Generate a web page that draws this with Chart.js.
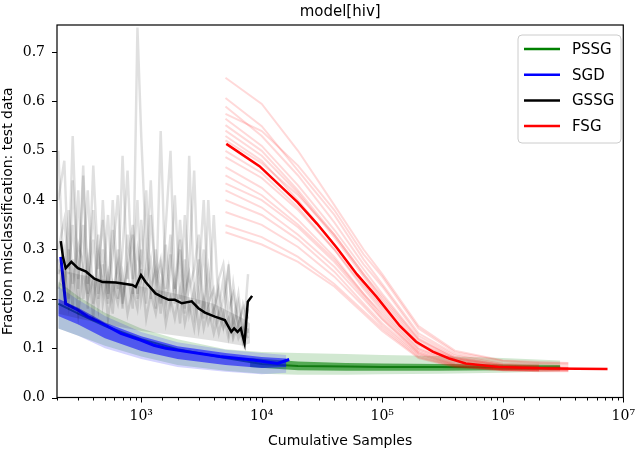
<!DOCTYPE html>
<html>
<head>
<meta charset="utf-8">
<script src="https://cdn.jsdelivr.net/npm/chart.js@4.4.1/dist/chart.umd.min.js"></script>
<style>
html, body { margin: 0; padding: 0; background: #fff; }
#wrap { width: 640px; height: 450px; position: relative; }
</style>
</head>
<body>
<div id="wrap"><canvas id="chart"></canvas></div>
<script>
// legend
var legendLabels = ["PSSG", "SGD", "GSSG", "FSG"];
var legendColors = ["green", "blue", "black", "red"];

// y ticks
var yTicks = [0.0, 0.1, 0.2, 0.3, 0.4, 0.5, 0.6, 0.7];

// PSSG (green) mean line + scatter band
var psX = [205, 300, 500, 1000, 2000, 5000, 10000, 20000, 50000, 100000, 300000, 1000000, 3000000];
var psY = [0.19, 0.17, 0.145, 0.118, 0.098, 0.08, 0.068, 0.064, 0.063, 0.062, 0.062, 0.061, 0.061];
var psHi = [0.235, 0.205, 0.172, 0.14, 0.118, 0.098, 0.092, 0.09, 0.088, 0.086, 0.084, 0.08, 0.075];
var psLo = [0.14, 0.125, 0.105, 0.083, 0.066, 0.054, 0.048, 0.046, 0.046, 0.047, 0.048, 0.05, 0.053];
// dense green core, only visible right of the SGD runs
var pcX = [8000, 20000, 50000, 100000, 300000, 1000000, 3000000];
var pcHi = [0.08, 0.073, 0.07, 0.069, 0.068, 0.067, 0.066];
var pcLo = [0.062, 0.055, 0.054, 0.054, 0.054, 0.055, 0.056];

// SGD (blue) mean line + scatter band
var sgX = [215, 236, 300, 360, 450, 677, 1000, 1272, 1600, 2390, 4490, 8430, 13500, 16900];
var sgY = [0.285, 0.19, 0.177, 0.164, 0.153, 0.13, 0.116, 0.106, 0.10, 0.093, 0.083, 0.076, 0.069, 0.077];
var sbX = [205, 300, 500, 1000, 2000, 5000, 10000, 16000];
var sbHi = [0.225, 0.198, 0.165, 0.133, 0.112, 0.097, 0.09, 0.086];
var sbLo = [0.14, 0.125, 0.1, 0.078, 0.062, 0.052, 0.047, 0.05];
var sbHi2 = [0.2, 0.182, 0.152, 0.124, 0.104, 0.09, 0.082, 0.079];
var sbLo2 = [0.165, 0.148, 0.12, 0.094, 0.078, 0.066, 0.06, 0.062];

// GSSG (black) mean line
var gsX = [215, 224, 236, 263, 298, 349, 408, 478, 616, 844, 900, 995, 1087, 1313, 1490, 1690, 1900, 2174, 2624, 2980, 3380, 4080, 4940, 5590, 5900, 6300, 6700, 7200, 7660, 8320];
var gsY = [0.317, 0.285, 0.262, 0.275, 0.262, 0.255, 0.241, 0.234, 0.233, 0.228, 0.224, 0.248, 0.234, 0.211, 0.204, 0.198, 0.198, 0.191, 0.195, 0.181, 0.172, 0.164, 0.157, 0.133, 0.140, 0.133, 0.140, 0.110, 0.194, 0.206];

// GSSG single runs (faint grey)
var gx = [205, 230, 250, 270, 300, 330, 360, 400, 440, 480, 530, 580, 640, 700, 770, 850, 930, 1000, 1100, 1200, 1320, 1450, 1600, 1750, 1900, 2100, 2300, 2500, 2750, 3000, 3300, 3600, 4000, 4400, 4800, 5300, 5800, 6400, 7000, 7700];
var g1 = [0.50, 0.22, 0.30, 0.18, 0.42, 0.20, 0.28, 0.16, 0.33, 0.19, 0.25, 0.17, 0.30, 0.20, 0.26, 0.18, 0.75, 0.53, 0.30, 0.22, 0.26, 0.17, 0.31, 0.19, 0.24, 0.15, 0.28, 0.17, 0.22, 0.14, 0.20, 0.15, 0.18, 0.13, 0.17, 0.12, 0.16, 0.12, 0.14, 0.12];
var g2 = [0.40, 0.48, 0.25, 0.35, 0.20, 0.45, 0.23, 0.38, 0.21, 0.30, 0.19, 0.40, 0.22, 0.49, 0.24, 0.33, 0.20, 0.36, 0.23, 0.28, 0.18, 0.54, 0.22, 0.33, 0.20, 0.30, 0.17, 0.49, 0.20, 0.28, 0.16, 0.40, 0.18, 0.22, 0.15, 0.27, 0.13, 0.19, 0.12, 0.25];
var g3 = [0.30, 0.36, 0.26, 0.53, 0.22, 0.47, 0.21, 0.32, 0.20, 0.40, 0.21, 0.34, 0.20, 0.30, 0.46, 0.21, 0.30, 0.25, 0.42, 0.20, 0.30, 0.19, 0.35, 0.50, 0.22, 0.32, 0.18, 0.27, 0.46, 0.19, 0.30, 0.17, 0.37, 0.18, 0.24, 0.14, 0.23, 0.15, 0.18, 0.13];
var g4 = [0.25, 0.30, 0.20, 0.44, 0.24, 0.35, 0.18, 0.47, 0.26, 0.36, 0.20, 0.29, 0.41, 0.19, 0.27, 0.35, 0.21, 0.30, 0.19, 0.37, 0.24, 0.28, 0.18, 0.26, 0.41, 0.20, 0.37, 0.22, 0.26, 0.33, 0.17, 0.26, 0.16, 0.24, 0.27, 0.18, 0.21, 0.14, 0.19, 0.16];
var g5 = [0.22, 0.26, 0.19, 0.28, 0.17, 0.26, 0.20, 0.24, 0.18, 0.27, 0.16, 0.23, 0.19, 0.25, 0.17, 0.22, 0.18, 0.26, 0.16, 0.21, 0.17, 0.23, 0.15, 0.20, 0.16, 0.22, 0.15, 0.19, 0.14, 0.21, 0.14, 0.18, 0.13, 0.17, 0.14, 0.16, 0.12, 0.15, 0.11, 0.14];
var g6 = [0.28, 0.21, 0.38, 0.23, 0.31, 0.27, 0.42, 0.19, 0.29, 0.22, 0.37, 0.21, 0.27, 0.18, 0.33, 0.24, 0.40, 0.20, 0.26, 0.44, 0.21, 0.27, 0.20, 0.29, 0.19, 0.36, 0.21, 0.25, 0.17, 0.24, 0.40, 0.19, 0.22, 0.16, 0.20, 0.26, 0.15, 0.21, 0.13, 0.18];
// dense part of the grey runs
var gcX = [205, 300, 600, 1000, 2000, 4000, 7000, 8000];
var gcLo = [0.17, 0.16, 0.145, 0.135, 0.125, 0.115, 0.105, 0.11];
var gcHi = [0.26, 0.25, 0.235, 0.225, 0.21, 0.19, 0.16, 0.15];

// FSG (red) mean line
var fsX = [5080, 9570, 19800, 28800, 42100, 61500, 89800, 140000, 191000, 262000, 359000, 493000, 925000, 2380000, 7400000];
var fsY = [0.514, 0.469, 0.396, 0.352, 0.303, 0.25, 0.204, 0.145, 0.113, 0.093, 0.079, 0.069, 0.062, 0.059, 0.058];

// FSG single runs (faint red)
var rx = [5000, 10000, 20000, 40000, 70000, 100000, 200000, 400000, 1000000, 2000000, 3500000];
var r1 = [0.648, 0.595, 0.50, 0.39, 0.30, 0.25, 0.145, 0.095, 0.075, 0.072, 0.070];
var r2 = [0.607, 0.55, 0.46, 0.37, 0.28, 0.23, 0.13, 0.088, 0.07, 0.068, 0.066];
var r3 = [0.59, 0.53, 0.45, 0.355, 0.27, 0.225, 0.125, 0.085, 0.068, 0.066, null];
var r4 = [0.575, 0.54, 0.47, 0.38, 0.29, 0.245, 0.14, 0.092, 0.074, 0.07, 0.069];
var r5 = [0.565, 0.51, 0.43, 0.34, 0.26, 0.21, 0.12, 0.082, 0.066, 0.063, 0.062];
var r6 = [0.552, 0.50, 0.42, 0.33, 0.25, 0.20, 0.115, 0.08, 0.065, 0.062, null];
var r7 = [0.541, 0.49, 0.415, 0.325, 0.245, 0.195, 0.11, 0.078, 0.064, 0.061, 0.060];
var r8 = [0.53, 0.48, 0.40, 0.31, 0.23, 0.185, 0.108, 0.077, 0.063, 0.061, 0.060];
var r9 = [0.521, 0.475, 0.41, 0.33, 0.25, 0.205, 0.118, 0.08, 0.066, 0.064, null];
var r10 = [0.50, 0.455, 0.385, 0.30, 0.22, 0.175, 0.10, 0.072, 0.06, 0.058, 0.057];
var r11 = [0.487, 0.445, 0.38, 0.30, 0.225, 0.18, 0.105, 0.075, 0.062, 0.06, 0.059];
var r12 = [0.467, 0.425, 0.36, 0.285, 0.21, 0.17, 0.098, 0.07, 0.059, 0.057, null];
var r13 = [0.45, 0.41, 0.35, 0.28, 0.21, 0.165, 0.095, 0.068, 0.058, 0.056, 0.055];
var r14 = [0.434, 0.40, 0.345, 0.275, 0.205, 0.16, 0.092, 0.067, 0.057, 0.056, null];
var r15 = [0.42, 0.385, 0.33, 0.265, 0.20, 0.158, 0.09, 0.066, 0.057, 0.055, 0.055];
var r16 = [0.40, 0.37, 0.32, 0.255, 0.19, 0.15, 0.088, 0.065, 0.056, 0.055, null];
var r17 = [0.376, 0.35, 0.305, 0.245, 0.185, 0.145, 0.085, 0.064, 0.056, 0.054, 0.054];
var r18 = [0.349, 0.325, 0.285, 0.23, 0.175, 0.14, 0.082, 0.063, 0.055, 0.054, null];
var r19 = [0.335, 0.31, 0.275, 0.225, 0.17, 0.135, 0.08, 0.062, 0.055, 0.053, 0.053];

var sup = { 2: "\u00b2", 3: "\u00b3", 4: "\u2074", 5: "\u2075", 6: "\u2076", 7: "\u2077" };

function pts(xs, ys) {
    return xs.map(function (x, i) { return { x: x, y: ys[i] }; }).filter(function (p) { return p.y !== null; });
}

function isDecade(v) {
    var l = Math.log10(v);
    return Math.abs(l - Math.round(l)) < 1e-6;
}

var datasets = [];
function addLine(xs, ys, color, width, fill) {
    datasets.push({
        data: pts(xs, ys),
        borderColor: color,
        backgroundColor: fill || color,
        borderWidth: width,
        pointRadius: 0,
        tension: 0,
        fill: fill ? "-1" : false
    });
}

// bottom to top
addLine(psX, psLo, "rgba(0,0,0,0)", 0);
addLine(psX, psHi, "rgba(0,0,0,0)", 0, "rgba(0,128,0,0.18)");
addLine(pcX, pcLo, "rgba(0,0,0,0)", 0);
addLine(pcX, pcHi, "rgba(0,0,0,0)", 0, "rgba(0,128,0,0.6)");
addLine(psX, psY, "rgba(0,110,0,0.8)", 2);

addLine(sbX, sbLo, "rgba(0,0,0,0)", 0);
addLine(sbX, sbHi, "rgba(0,0,0,0)", 0, "rgba(40,40,255,0.2)");
addLine(sbX, sbLo2, "rgba(0,0,0,0)", 0);
addLine(sbX, sbHi2, "rgba(0,0,0,0)", 0, "rgba(0,0,255,0.55)");
addLine(sgX, sgY, "#0000ff", 3);

addLine(gcX, gcLo, "rgba(0,0,0,0)", 0);
addLine(gcX, gcHi, "rgba(0,0,0,0)", 0, "rgba(0,0,0,0.12)");
[g1, g2, g3, g4, g5, g6].forEach(function (g) {
    addLine(gx, g, "rgba(0,0,0,0.12)", 2.5);
});
addLine(gsX, gsY, "#000000", 2.5);

[r1, r2, r3, r4, r5, r6, r7, r8, r9, r10, r11, r12, r13, r14, r15, r16, r17, r18, r19].forEach(function (r) {
    addLine(rx, r, "rgba(255,0,0,0.15)", 2);
});
addLine(fsX, fsY, "#ff0000", 2.5);

datasets.forEach(function (d, i) { d.order = datasets.length - i; });

var extras = {
    id: "extras",
    afterDraw: function (chart) {
        var ctx = chart.ctx, a = chart.chartArea, xs = chart.scales.x, ys = chart.scales.y;
        ctx.save();
        // ticks (major 5px, minor 3px)
        ctx.strokeStyle = "#000";
        ctx.lineWidth = 1;
        xs.ticks.forEach(function (t) {
            var len = isDecade(t.value) ? 5 : 3;
            var px = Math.round(xs.getPixelForValue(t.value)) + 0.5;
            ctx.beginPath();
            ctx.moveTo(px, a.bottom);
            ctx.lineTo(px, a.bottom + len);
            ctx.stroke();
        });
        yTicks.forEach(function (v) {
            var py = Math.round(ys.getPixelForValue(v)) + 0.5;
            ctx.beginPath();
            ctx.moveTo(a.left, py);
            ctx.lineTo(a.left - 5, py);
            ctx.stroke();
        });
        // frame
        ctx.lineWidth = 1.2;
        ctx.strokeRect(a.left, a.top, a.right - a.left, a.bottom - a.top);
        // title
        ctx.fillStyle = "#000";
        ctx.font = '15px "DejaVu Sans"';
        ctx.textAlign = "center";
        ctx.textBaseline = "middle";
        ctx.fillText("model[hiv]", (a.left + a.right) / 2, 12);
        // legend
        var bx = 518, by = 35, bw = 103, bh = 108, r = 4;
        ctx.beginPath();
        ctx.moveTo(bx + r, by);
        ctx.arcTo(bx + bw, by, bx + bw, by + bh, r);
        ctx.arcTo(bx + bw, by + bh, bx, by + bh, r);
        ctx.arcTo(bx, by + bh, bx, by, r);
        ctx.arcTo(bx, by, bx + bw, by, r);
        ctx.closePath();
        ctx.fillStyle = "rgba(255,255,255,0.8)";
        ctx.fill();
        ctx.strokeStyle = "#cccccc";
        ctx.lineWidth = 1;
        ctx.stroke();
        ctx.textAlign = "left";
        legendLabels.forEach(function (lab, i) {
            var y = 49 + i * 25.7;
            ctx.strokeStyle = legendColors[i];
            ctx.lineWidth = 2.5;
            ctx.beginPath();
            ctx.moveTo(524, y);
            ctx.lineTo(560, y);
            ctx.stroke();
            ctx.fillStyle = "#000";
            ctx.fillText(lab, 572, y + 1);
        });
        ctx.restore();
    }
};

new Chart(document.getElementById("chart").getContext("2d"), {
    type: "line",
    data: { datasets: datasets },
    plugins: [extras],
    options: {
        responsive: true,
        maintainAspectRatio: false,
        animation: false,
        devicePixelRatio: 1,
        layout: { padding: { top: 25, right: 11, left: 0, bottom: 0 } },
        plugins: {
            legend: { display: false },
            tooltip: { enabled: false },
            title: { display: false }
        },
        scales: {
            x: {
                type: "logarithmic",
                min: 200,
                max: 10000000,
                afterFit: function (s) { s.height = 52.5; },
                border: { display: false },
                grid: {
                    drawOnChartArea: false,
                    drawTicks: true,
                    tickLength: 5,
                    tickColor: "rgba(0,0,0,0)"
                },
                ticks: {
                    autoSkip: false,
                    maxRotation: 0,
                    padding: 5,
                    color: "#000",
                    font: { family: "DejaVu Serif", size: 14 },
                    callback: function (v) {
                        return isDecade(v) ? "10" + sup[Math.round(Math.log10(v))] : "";
                    }
                },
                title: {
                    display: true,
                    text: "Cumulative Samples",
                    color: "#000",
                    font: { family: "DejaVu Sans", size: 14 },
                    padding: { top: 0, bottom: 0 }
                }
            },
            y: {
                type: "linear",
                min: 0,
                max: 0.755,
                afterFit: function (s) { s.width = 57; },
                afterBuildTicks: function (s) {
                    s.ticks = yTicks.map(function (v) { return { value: v }; });
                },
                border: { display: false },
                grid: {
                    drawOnChartArea: false,
                    drawTicks: true,
                    tickLength: 5,
                    tickColor: "rgba(0,0,0,0)"
                },
                ticks: {
                    padding: 7,
                    color: "#000",
                    font: { family: "DejaVu Serif", size: 14 },
                    callback: function (v) { return v.toFixed(1); }
                },
                title: {
                    display: true,
                    text: "Fraction misclassification: test data",
                    color: "#000",
                    font: { family: "DejaVu Sans", size: 14 },
                    padding: { top: 0, bottom: 0 }
                }
            }
        }
    }
});
</script>
</body>
</html>
